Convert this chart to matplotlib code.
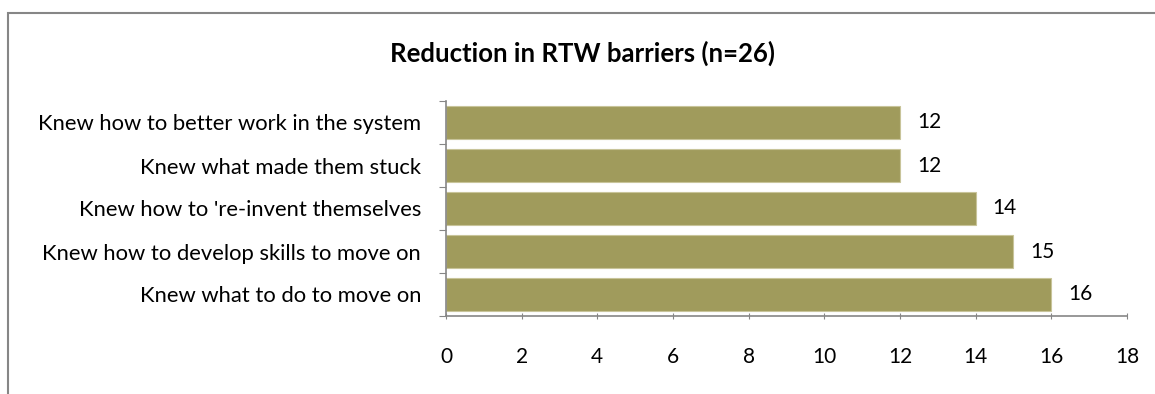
import matplotlib.pyplot as plt
from matplotlib.patches import Rectangle

# donnees du graphique
categories = ["Knew what to do to move on",
              "Knew how to develop skills to move on",
              "Knew how to 're-invent themselves",
              "Knew what made them stuck",
              "Knew how to better work in the system"]
values = [16, 15, 14, 12, 12]
xticks = [0, 2, 4, 6, 8, 10, 12, 14, 16, 18]
title = "Reduction in RTW barriers (n=26)"

plt.rcParams['font.family'] = ['Lato', 'DejaVu Sans']

fig = plt.figure(figsize=(11.55, 3.94), dpi=100)
ax = fig.add_axes([446 / 1155, 1 - 316 / 394, 681 / 1155, 215 / 394])

# cadre gris autour du graphique (coupe a droite et en bas)
fig.patches.append(Rectangle((8 / 1155, -0.1), 1.2, 1 - 13 / 394 + 0.1,
                             transform=fig.transFigure, fill=False,
                             edgecolor='#868686', linewidth=1.5))

y = list(range(len(categories)))
ax.barh(y, values, height=0.75, color='#A09B5C', edgecolor='#C8C49A', linewidth=0.8)
for yi, v in zip(y, values):
    ax.text(v + 0.45, yi, str(v), va='center', ha='left', fontsize=15)

ax.set_xlim(0, 18)
ax.set_ylim(-0.5, len(categories) - 0.5)
ax.set_xticks(xticks)
ax.set_yticks([i - 0.5 for i in range(len(categories) + 1)])
ax.set_yticklabels([])
ax.set_yticks(y, minor=True)
ax.set_yticklabels(categories, minor=True, fontsize=15.8)
ax.tick_params(axis='y', which='minor', length=0, pad=18)
ax.tick_params(axis='y', which='major', length=5, color='#868686', direction='out')
ax.tick_params(axis='x', length=5, color='#868686', direction='inout', pad=20, labelsize=15)

for s in ['top', 'right']:
    ax.spines[s].set_visible(False)
for s in ['left', 'bottom']:
    ax.spines[s].set_color('#868686')
    ax.spines[s].set_linewidth(1.2)

fig.text(583 / 1155, 1 - 53 / 394, title, ha='center', va='center',
         fontsize=18.5, fontweight='bold')

fig.savefig('out.png', dpi=100)
